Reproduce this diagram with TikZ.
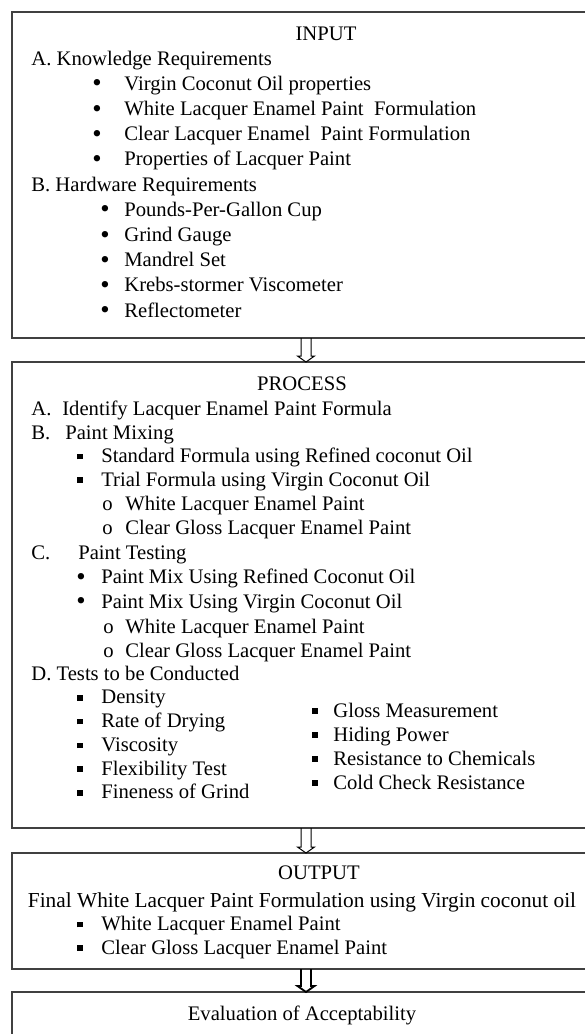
\documentclass[tikz,border=0pt]{standalone}
\usepackage{fontspec}
\setmainfont{Liberation Serif}
\usetikzlibrary{calc}
\newcommand{\sqbul}{\rule[0.15em]{0.27em}{0.27em}}
\newcommand{\rdbul}{\raisebox{-0.08em}{\fontsize{16}{16}\selectfont\textbullet}}
\tikzset{
	panel/.style={anchor=north west, minimum width=343.8pt, inner sep=0pt, outer sep=0pt},
	frame/.style={draw=black!75, line width=0.8pt},
	txt/.style={anchor=base west, inner sep=0pt, font=\fontsize{12.4}{14}\selectfont},
	ttl/.style={txt, anchor=base},
	bul/.style={txt, anchor=base},
	hollow/.style={line width=0.6pt, to path={
		($(\tikztostart)+(-5,0)$) -- ($(\tikztotarget)+(-5,-6)$) -- ($(\tikztotarget)+(-8.5,-6)$)
		-- (\tikztotarget) -- ($(\tikztotarget)+(8.5,-6)$) -- ($(\tikztotarget)+(5,-6)$)
		-- ($(\tikztostart)+(5,0)$)}}
}
\begin{document}
\begin{tikzpicture}[x=0.6pt, y=-0.6pt]
	\useasboundingbox (0,0) rectangle (585,1034);
	\clip (0,0) rectangle (585,1034);
	
	%Boxes (open to the right)
	\node[panel, minimum height=195.6pt] (input) at (12,12) {};
	\node[panel, minimum height=279.6pt] (process) at (12,362) {};
	\node[panel, minimum height=69.6pt] (output) at (12,853) {};
	\node[panel, minimum height=36pt] (evaluation) at (12,992) {};
	\foreach \b in {input, process, output, evaluation}
		\draw[frame] (\b.north east) -- (\b.north west) -- (\b.south west) -- (\b.south east);
	
	%Arrows
	\draw[hollow] ([xshift=4.5pt]input.south) to ([xshift=4.5pt]process.north);
	\draw[hollow] ([xshift=4.5pt]process.south) to ([xshift=4.5pt]output.north);
	\draw[hollow, line width=1.1pt] ([xshift=4.5pt]output.south) to ([xshift=4.5pt]evaluation.north);
	
	%INPUT
	\node[ttl] (inTitle) at (326,40) {INPUT};
	\node[txt] (inA) at (31,65) {A. Knowledge Requirements};
	\foreach \t [count=\i] in {Virgin Coconut Oil properties, White Lacquer Enamel Paint~ Formulation, Clear Lacquer Enamel~ Paint Formulation, Properties of Lacquer Paint}{
		\node[bul] (inAm\i) at (97,65+25.2*\i) {\rdbul};
		\node[txt] (inA\i) at (124,65+25.2*\i) {\t};
	}
	\node[txt] (inB) at (31,191) {B. Hardware Requirements};
	\foreach \t [count=\i] in {Pounds-Per-Gallon Cup, Grind Gauge, Mandrel Set, Krebs-stormer Viscometer, Reflectometer}{
		\node[bul] (inBm\i) at (105,191+25.2*\i) {\rdbul};
		\node[txt] (inB\i) at (124,191+25.2*\i) {\t};
	}
	
	%PROCESS
	\node[ttl] (prTitle) at (302,390) {PROCESS};
	\node[txt] (prA) at (31,415) {A.};
	\node[txt] (prAt) at (62,415) {Identify Lacquer Enamel Paint Formula};
	\node[txt] (prB) at (31,439) {B.};
	\node[txt] (prBt) at (65,439) {Paint Mixing};
	\foreach \t [count=\i] in {Standard Formula using Refined coconut Oil, Trial Formula using Virgin Coconut Oil}{
		\node[bul] (prBm\i) at (80,439+23.5*\i) {\sqbul};
		\node[txt] (prB\i) at (101,439+23.5*\i) {\t};
	}
	\foreach \t [count=\i] in {White Lacquer Enamel Paint, Clear Gloss Lacquer Enamel Paint}{
		\node[txt] (prBo\i) at (102,486+24*\i) {o};
		\node[txt] (prBs\i) at (125,486+24*\i) {\t};
	}
	\node[txt] (prC) at (31,559) {C.};
	\node[txt] (prCt) at (78,559) {Paint Testing};
	\foreach \t [count=\i] in {Paint Mix Using Refined Coconut Oil, Paint Mix Using Virgin Coconut Oil}{
		\node[bul] (prCm\i) at (81,559+24.5*\i) {\rdbul};
		\node[txt] (prC\i) at (101,559+24.5*\i) {\t};
	}
	\foreach \t [count=\i] in {White Lacquer Enamel Paint, Clear Gloss Lacquer Enamel Paint}{
		\node[txt] (prCo\i) at (103,609+24*\i) {o};
		\node[txt] (prCs\i) at (125,609+24*\i) {\t};
	}
	\node[txt] (prD) at (31,680) {D. Tests to be Conducted};
	\foreach \t [count=\i] in {Density, Rate of Drying, Viscosity, Flexibility Test, Fineness of Grind}{
		\node[bul] (prDm\i) at (80,680+23.75*\i) {\sqbul};
		\node[txt] (prD\i) at (101,680+23.75*\i) {\t};
	}
	\foreach \t [count=\i] in {Gloss Measurement, Hiding Power, Resistance to Chemicals, Cold Check Resistance}{
		\node[bul] (prEm\i) at (315,693+24*\i) {\sqbul};
		\node[txt] (prE\i) at (333,693+24*\i) {\t};
	}
	
	%OUTPUT
	\node[ttl] (outTitle) at (319,879) {OUTPUT};
	\node[ttl, font=\fontsize{12.8}{14}\selectfont] (outFinal) at (302,907) {Final White Lacquer Paint Formulation using Virgin coconut oil};
	\foreach \t [count=\i] in {White Lacquer Enamel Paint, Clear Gloss Lacquer Enamel Paint}{
		\node[bul] (outm\i) at (80,907+23.5*\i) {\sqbul};
		\node[txt] (out\i) at (101,907+23.5*\i) {\t};
	}
	
	%EVALUATION
	\node[ttl] (evTitle) at (302,1020) {Evaluation of Acceptability};
\end{tikzpicture}
\end{document}
